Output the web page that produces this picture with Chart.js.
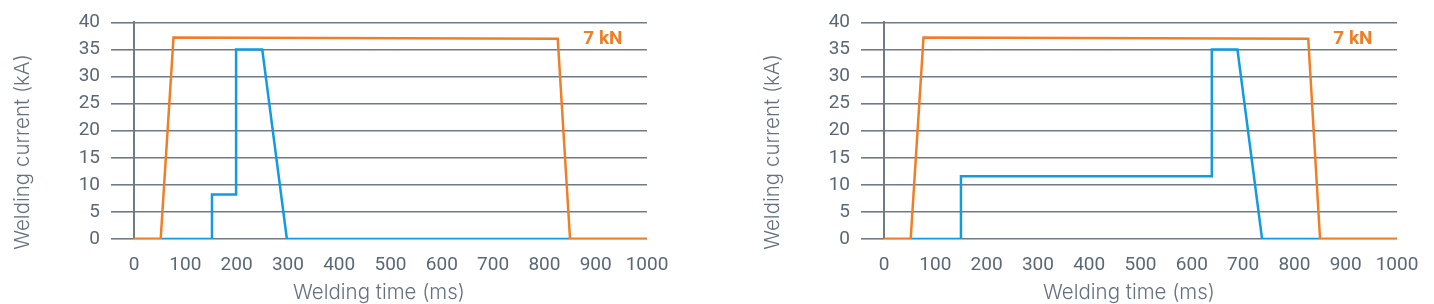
<!DOCTYPE html>
<html>
<head>
<meta charset="utf-8">
<script src="https://cdn.jsdelivr.net/npm/chart.js@4/dist/chart.umd.min.js"></script>
<style>
  html, body { margin: 0; padding: 0; background: #fff; }
  .panel { position: absolute; top: 0; width: 684px; height: 304px; }
  #p1 { left: 0; }
  #p2 { left: 750px; }
</style>
</head>
<body>
<div class="panel" id="p1"><canvas id="c1"></canvas></div>
<div class="panel" id="p2"><canvas id="c2"></canvas></div>
<script>
// ===== DATA =====
const timeTicks = [0, 100, 200, 300, 400, 500, 600, 700, 800, 900, 1000];
const currentTicks = [0, 5, 10, 15, 20, 25, 30, 35, 40];

// electrode force profile (7 kN), same on both panels
const forceTimeA = [0, 52, 77, 826, 850, 1000];
const forceValsA = [0, 0, 37.2, 37.0, 0, 0];
const forceTimeB = [0, 52, 77, 827, 850, 1000];
const forceValsB = [0, 0, 37.2, 37.0, 0, 0];

// welding current, left panel
const currTimeA = [0, 152, 152, 199, 199, 250, 298, 1000];
const currValsA = [0, 0, 8.2, 8.2, 35, 35, 0, 0];
// welding current, right panel
const currTimeB = [0, 150, 150, 639, 639, 689, 737, 1000];
const currValsB = [0, 0, 11.6, 11.6, 35, 35, 0, 0];

const forceLabel = '7 kN';
const forceLabelAt = [914, 36.8];

const ORANGE = '#f07e26';
const BLUE = '#129be0';
const GRID = '#717b85';
const TICK = '#5a6776';
const TITLE = '#65717f';

const pairs = (xs, ys) => xs.map((x, i) => ({ x, y: ys[i] }));

// ===== AXIS TITLES + FORCE LABEL =====
const extras = {
  id: 'extras',
  afterDraw(chart) {
    const { ctx, scales: { x, y } } = chart;
    ctx.save();
    ctx.fillStyle = TITLE;
    ctx.font = '300 20.5px Inter';
    ctx.textAlign = 'center';
    ctx.textBaseline = 'middle';
    ctx.fillText('Welding time (ms)', 379, 293);
    ctx.translate(23, 152);
    ctx.rotate(-Math.PI / 2);
    ctx.fillText('Welding current (kA)', 0, 0);
    ctx.restore();

    ctx.save();
    ctx.fillStyle = ORANGE;
    ctx.font = 'bold 19px Roboto';
    ctx.textAlign = 'center';
    ctx.textBaseline = 'middle';
    ctx.fillText(forceLabel, x.getPixelForValue(forceLabelAt[0]), y.getPixelForValue(forceLabelAt[1]));
    ctx.restore();
  }
};

function makeChart(id, fT, fV, cT, cV) {
  return new Chart(document.getElementById(id), {
    type: 'line',
    data: {
      datasets: [{
        label: 'Force',
        data: pairs(fT, fV),
        borderColor: ORANGE,
        borderWidth: 2.5,
        pointRadius: 0,
        tension: 0,
        fill: false
      }, {
        label: 'Current',
        data: pairs(cT, cV),
        borderColor: BLUE,
        borderWidth: 2.5,
        pointRadius: 0,
        tension: 0,
        fill: false
      }]
    },
    options: {
      responsive: true,
      maintainAspectRatio: false,
      animation: false,
      layout: { padding: { top: 15, right: 37, bottom: 0, left: 0 } },
      plugins: { legend: { display: false }, tooltip: { enabled: false } },
      scales: {
        x: {
          type: 'linear',
          min: timeTicks[0],
          max: timeTicks[timeTicks.length - 1],
          afterBuildTicks: s => { s.ticks = timeTicks.map(v => ({ value: v })); },
          afterFit: s => { s.height = 65; },
          grid: { display: false },
          border: { display: false },
          ticks: {
            color: TICK, font: { family: 'Roboto', size: 19 }, padding: 7,
            maxRotation: 0, autoSkip: false, callback: v => String(v)
          }
        },
        y: {
          type: 'linear',
          min: currentTicks[0],
          max: currentTicks[currentTicks.length - 1],
          afterBuildTicks: s => { s.ticks = currentTicks.map(v => ({ value: v })); },
          afterFit: s => { s.width = 134; },
          grid: { color: GRID, lineWidth: 1.6, tickLength: 23, tickColor: GRID, tickWidth: 1.6 },
          border: { display: true, color: GRID, width: 2 },
          ticks: { color: TICK, font: { family: 'Roboto', size: 19 }, padding: 11, callback: v => String(v) }
        }
      }
    },
    plugins: [extras]
  });
}

makeChart('c1', forceTimeA, forceValsA, currTimeA, currValsA);
makeChart('c2', forceTimeB, forceValsB, currTimeB, currValsB);
</script>
</body>
</html>
